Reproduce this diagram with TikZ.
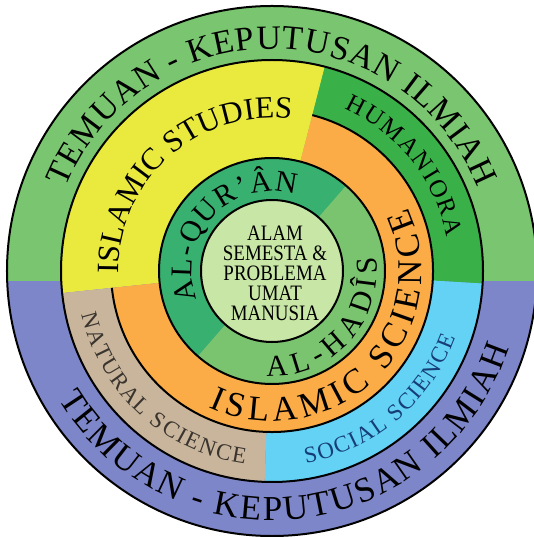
\documentclass[tikz,border=0pt]{standalone}
\usepackage{fontspec}
\setmainfont{Liberation Serif}
\newfontfamily\narrowserif[FakeStretch=0.86]{Liberation Serif}
\usetikzlibrary{decorations.text}

\definecolor{outgreen}{RGB}{122,198,112}
\definecolor{outblue}{RGB}{126,134,202}
\definecolor{studyyellow}{RGB}{234,234,62}
\definecolor{humgreen}{RGB}{58,176,72}
\definecolor{sciorange}{RGB}{252,172,70}
\definecolor{naturaltan}{RGB}{200,181,156}
\definecolor{socialblue}{RGB}{100,210,245}
\definecolor{qurgreen}{RGB}{56,176,112}
\definecolor{hadgreen}{RGB}{122,196,112}
\definecolor{coregreen}{RGB}{200,230,166}
\definecolor{socialink}{RGB}{22,62,118}
\definecolor{naturalink}{RGB}{58,52,46}

\newcommand\bigfont{\fontsize{34}{36}\selectfont}
\newcommand\lowfont{\fontsize{35}{37}\selectfont}
\newcommand\midfont{\fontsize{31}{33}\selectfont}
\newcommand\scifont{\fontsize{35}{37}\selectfont}
\newcommand\humfont{\fontsize{25}{27}\selectfont}
\newcommand\smallfont{\fontsize{23}{25}\selectfont}
\newcommand\innerfont{\fontsize{30}{32}\selectfont}
\newcommand\corefont{\narrowserif\fontsize{22}{20}\selectfont}

% colour, start, end, inner radius, outer radius
\newcommand\sector[5]{\fill[#1] (#2:#5) arc[start angle=#2,end angle=#3,radius=#5] -- (#3:#4) arc[start angle=#3,end angle=#2,radius=#4] -- cycle;}
% text, start, end, radius
\newcommand\bendtext[5][black]{\path[decorate,decoration={text along path,text={#2},text color=#1,text align={fit to path}}] (#3:#5) arc[start angle=#3,end angle=#4,radius=#5];}

\begin{document}
\begin{tikzpicture}[x=1pt,y=1pt]
\tikzset{ringline/.style={line width=2pt}}
\useasboundingbox (-272,-266) rectangle (262,271);
\clip (-272,-266) rectangle (262,271);

\fill[outgreen] (0,0) circle[radius=265];
\begin{scope}
	\clip (-300,-11) rectangle (300,-300);
	\fill[outblue] (0,0) circle[radius=265];
\end{scope}

\sector{studyyellow}{75.5}{186}{113}{211}
\sector{humgreen}{-3.4}{75.5}{161}{211}
\sector{socialblue}{268}{356.6}{161}{211}
\sector{naturaltan}{186}{268}{161}{211}
\sector{sciorange}{186}{435.5}{113}{161}
\sector{qurgreen}{49}{229}{71}{113}
\sector{hadgreen}{229}{409}{71}{113}
\fill[coregreen] (0,0) circle[radius=71];

\foreach \r in {265,211,113,71}
	\draw[ringline] (0,0) circle[radius=\r];
\draw[ringline] (186:161) arc[start angle=186,end angle=435.5,radius=161];

\bendtext{|\bigfont|TEMUAN - KEPUTUSAN ILMIAH}{158}{22}{222}
\bendtext{|\lowfont|TEMUAN - KEPUTUSAN ILMIAH}{211}{342}{249}
\bendtext{|\midfont|ISLAMIC STUDIES}{181}{83.5}{153}
\bendtext{|\humfont|HUMANIORA}{66}{11}{178}
\bendtext{|\innerfont|AL-QUR’ÂN}{201}{73}{80}
\bendtext{|\innerfont|AL-HADÎS}{267}{368}{105}
\bendtext{|\scifont|ISLAMIC SCIENCE}{245}{385}{150}
\bendtext[naturalink]{|\smallfont|NATURAL SCIENCE}{193}{262}{195}
\bendtext[socialink]{|\smallfont|SOCIAL SCIENCE}{280}{340}{195}

\node[align=center,font=\corefont,inner sep=0pt] (core) at (3,-2) {ALAM\\SEMESTA \&\\PROBLEMA\\UMAT\\MANUSIA};

\end{tikzpicture}
\end{document}
